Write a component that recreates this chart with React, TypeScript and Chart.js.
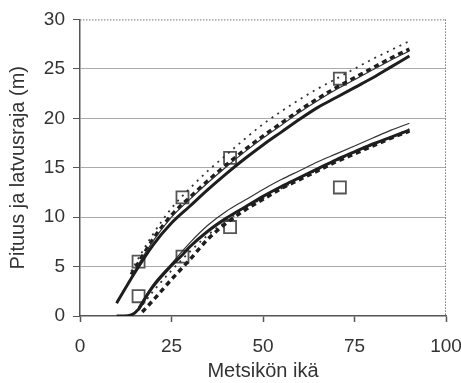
import React, { useEffect, useRef } from "react";
import { Chart, registerables } from "chart.js";

Chart.register(...registerables);

// Tick labels
const xTicks = [0, 25, 50, 75, 100];
const yTicks = [0, 5, 10, 15, 20, 25, 30];

// Upper group (tree height)
const upAges = [10, 15, 20, 25, 30, 35, 40, 45, 50, 55, 60, 65, 70, 75, 80, 85, 90];
const upSolid = [1.3, 4.4, 7.2, 9.4, 11.1, 12.8, 14.4, 15.9, 17.3, 18.6, 19.9, 21.1, 22.1, 23.1, 24.1, 25.2, 26.3];
const upDashAges = [14, 15, 20, 25, 30, 35, 40, 45, 50, 55, 60, 65, 70, 75, 80, 85, 90];
const upDashed = [4.2, 4.8, 7.8, 10.2, 12.0, 13.7, 15.3, 16.8, 18.2, 19.5, 20.8, 22.0, 23.1, 24.1, 25.1, 26.1, 27.0];
const upThin = [3.9, 4.6, 7.6, 10.0, 11.8, 13.5, 15.1, 16.6, 18.0, 19.3, 20.6, 21.8, 22.9, 23.9, 24.9, 25.9, 26.8];
const upDotted = [4.5, 5.2, 8.3, 10.9, 12.9, 14.7, 16.3, 17.9, 19.4, 20.7, 21.9, 23.0, 24.0, 25.0, 26.0, 26.9, 27.8];

// Lower group (crown base)
const loSolidAges = [10, 12, 14, 16, 18, 20, 25, 28, 30, 35, 40, 45, 50, 55, 60, 65, 70, 75, 80, 85, 90];
const loSolid = [0, 0, 0.1, 0.7, 1.9, 3.0, 5.1, 6.2, 7.0, 8.6, 9.9, 11.0, 12.1, 13.1, 14.0, 14.9, 15.8, 16.6, 17.4, 18.1, 18.8];
const loThinAges = [16, 18, 20, 25, 30, 35, 40, 45, 50, 55, 60, 65, 70, 75, 80, 85, 90];
const loThin = [0.9, 2.1, 3.2, 5.3, 7.4, 9.2, 10.6, 11.7, 12.8, 13.8, 14.7, 15.6, 16.4, 17.2, 18.0, 18.8, 19.5];
const loDashAges = [17, 20, 25, 30, 35, 40, 45, 50, 55, 60, 65, 70, 75, 80, 85, 90];
const loDashed = [0.4, 1.6, 3.7, 5.7, 7.8, 9.4, 10.7, 11.8, 12.9, 13.8, 14.7, 15.6, 16.4, 17.2, 18.0, 18.7];
const loDotAges = [16, 20, 25, 30, 35, 40, 45, 50, 55, 60, 65, 70, 75, 80, 85, 90];
const loDotted = [0.6, 2.5, 4.6, 6.5, 8.2, 9.6, 10.9, 11.9, 12.9, 13.9, 14.8, 15.7, 16.5, 17.3, 18.1, 18.9];

// Observations
const obsAges = [16, 28, 41, 71];
const obsHeight = [5.5, 12, 16, 24];
const obsCrown = [2, 6, 9, 13];

const pts = (xs: number[], ys: number[]) => xs.map((x, i) => ({ x, y: ys[i] }));

const frame = {
  id: "frame",
  afterDraw(chart: any) {
    const { ctx, chartArea: a } = chart;
    ctx.save();
    ctx.strokeStyle = "#777";
    ctx.lineWidth = 1;
    ctx.setLineDash([1.5, 1.5]);
    ctx.beginPath();
    ctx.moveTo(a.left, a.top + 0.5);
    ctx.lineTo(a.right, a.top + 0.5);
    ctx.moveTo(a.right - 0.5, a.top);
    ctx.lineTo(a.right - 0.5, a.bottom);
    ctx.stroke();
    ctx.restore();
  },
};

export default function App() {
  const ref = useRef<HTMLCanvasElement>(null);
  useEffect(() => {
    const lineBase = { showLine: true, pointRadius: 0, fill: false, tension: 0.35, cubicInterpolationMode: "monotone" as const };
    const dark = "#1e1e1e";
    const chart = new Chart(ref.current!, {
      type: "scatter",
      data: {
        datasets: [
          { ...lineBase, data: pts(upAges, upSolid), borderColor: dark, borderWidth: 3 },
          { ...lineBase, data: pts(upDashAges, upThin), borderColor: "#333", borderWidth: 1.2 },
          { ...lineBase, data: pts(upDashAges, upDashed), borderColor: dark, borderWidth: 3.5, borderDash: [5, 4] },
          { ...lineBase, data: pts(upDashAges, upDotted), borderColor: "#333", borderWidth: 1.8, borderDash: [2, 5] },
          { ...lineBase, data: pts(loSolidAges, loSolid), borderColor: dark, borderWidth: 3 },
          { ...lineBase, data: pts(loThinAges, loThin), borderColor: "#333", borderWidth: 1.2 },
          { ...lineBase, data: pts(loDashAges, loDashed), borderColor: dark, borderWidth: 3.5, borderDash: [5, 4] },
          { ...lineBase, data: pts(loDotAges, loDotted), borderColor: "#333", borderWidth: 1.8, borderDash: [2, 5] },
          { data: pts(obsAges, obsHeight), showLine: false, pointStyle: "rect", pointRadius: 8.5, backgroundColor: "#fff", borderColor: "#555", borderWidth: 1.8 },
          { data: pts(obsAges, obsCrown), showLine: false, pointStyle: "rect", pointRadius: 8.5, backgroundColor: "#fff", borderColor: "#555", borderWidth: 1.8 },
        ],
      },
      options: {
        responsive: false,
        animation: false,
        layout: { padding: { top: 19, right: 0, left: 0, bottom: 0 } },
        plugins: { legend: { display: false }, tooltip: { enabled: false } },
        scales: {
          x: {
            type: "linear",
            min: 0,
            max: 100,
            afterBuildTicks: (s: any) => { s.ticks = xTicks.map((v) => ({ value: v })); },
            afterFit: (s: any) => { s.height = 67; s.paddingRight = 15; },
            ticks: { color: "#333", font: { family: "Liberation Sans, Arial", size: 19 }, padding: 13, maxRotation: 0 },
            grid: { drawOnChartArea: false, drawTicks: true, tickLength: 6, tickColor: "#555", tickWidth: 1.5 },
            border: { color: "#555", width: 1.5 },
            title: { display: true, text: "Metsikön ikä", color: "#333", font: { family: "Liberation Sans, Arial", size: 20 }, padding: { top: 0, bottom: 0 } },
          },
          y: {
            type: "linear",
            min: 0,
            max: 30,
            afterBuildTicks: (s: any) => { s.ticks = yTicks.map((v) => ({ value: v })); },
            afterFit: (s: any) => { s.width = 80; },
            ticks: { color: "#333", font: { family: "Liberation Sans, Arial", size: 19 }, padding: 8 },
            grid: {
              color: (c: any) => (c.tick && (c.tick.value === 30 || c.tick.value === 0) ? "rgba(0,0,0,0)" : "#aaa"),
              tickColor: "#555",
              tickLength: 7,
              lineWidth: 1,
            },
            border: { color: "#555", width: 1.5 },
            title: { display: true, text: "Pituus ja latvusraja (m)", color: "#333", font: { family: "Liberation Sans, Arial", size: 20 }, padding: { top: 6, bottom: 4 } },
          },
        },
      },
      plugins: [frame],
    } as any);
    return () => chart.destroy();
  }, []);
  return (
    <div style={{ position: "absolute", left: 0, top: 0, width: 461, height: 383, background: "#fff" }}>
      <canvas ref={ref} width={461} height={383} />
    </div>
  );
}
